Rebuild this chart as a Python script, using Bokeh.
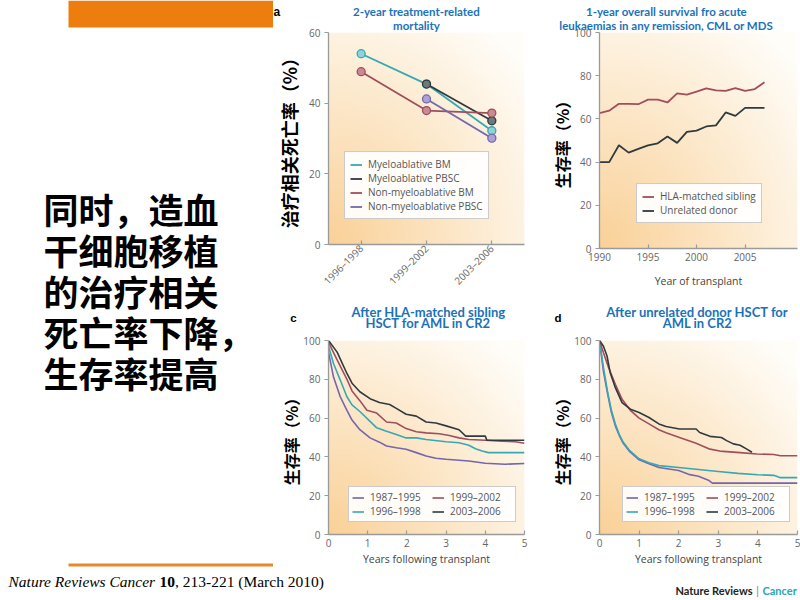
import numpy as np
from bokeh.plotting import figure
from bokeh.models import Range1d, Legend, LegendItem, FixedTicker, LinearAxis
from bokeh.layouts import row, column
from bokeh.embed import file_html
from bokeh.resources import INLINE
from bokeh.core.properties import value

# ---------------- data ----------------
periods_a = ["1996–1998", "1999–2002", "2003–2006"]
mort_myelo_bm = [54.0, 45.4, 32.2]
mort_myelo_pbsc = [np.nan, 45.4, 35.0]
mort_nonmyelo_bm = [48.9, 37.9, 37.2]
mort_nonmyelo_pbsc = [np.nan, 41.2, 30.1]

years_b = [1990, 1991, 1992, 1993, 1994, 1995, 1996, 1997, 1998, 1999,
           2000, 2001, 2002, 2003, 2004, 2005, 2006, 2007]
surv_sibling = [62.7, 63.8, 67.0, 67.0, 66.8, 68.9, 68.9, 67.6, 71.8, 71.2,
                72.6, 74.1, 73.2, 73.0, 74.3, 73.0, 73.8, 77.0]
surv_unrelated = [40.0, 40.0, 47.8, 44.4, 46.1, 47.7, 48.7, 51.8, 48.9, 54.0,
                  54.6, 56.5, 57.0, 63.0, 61.4, 65.1, 65.1, 65.1]

# panel c: after HLA-matched sibling HSCT
c_t_8795 = [0, 0.13, 0.3, 0.47, 0.6, 0.8, 1.06, 1.3, 1.48, 1.73, 1.98, 2.24, 2.49, 2.74, 3.0, 3.33, 3.58, 4.0, 4.5, 5.0]
c_v_8795 = [94, 81, 71, 64, 59, 54, 49.8, 47.6, 45.6, 44.7, 43.9, 42.2, 40.5, 39.3, 38.8, 38.3, 37.9, 36.7, 36.2, 36.6]
c_t_9698 = [0, 0.13, 0.3, 0.47, 0.6, 0.8, 1.06, 1.23, 1.48, 1.73, 1.98, 2.24, 2.49, 3.0, 3.33, 3.58, 3.75, 3.92, 4.08, 5.0]
c_v_9698 = [97, 88, 79.6, 71, 66.8, 63.4, 58.3, 55, 53.2, 51.5, 49.8, 49.8, 49, 47.8, 47.3, 46, 44.2, 43, 42.2, 42.2]
c_t_9902 = [0, 0.22, 0.47, 0.6, 0.8, 0.98, 1.23, 1.48, 1.73, 1.98, 2.24, 2.49, 2.83, 3.08, 3.33, 3.58, 4.0, 4.42, 4.76, 5.0]
c_v_9902 = [99, 90, 80, 74, 69, 64, 62.6, 58, 57.5, 54.6, 53, 52.4, 51.9, 51, 49.8, 49, 48.6, 48.1, 47.8, 47]
c_t_0306 = [0, 0.22, 0.47, 0.6, 0.8, 1.06, 1.3, 1.56, 1.73, 1.98, 2.24, 2.49, 2.74, 3.0, 3.33, 3.5, 4.0, 4.04, 5.0]
c_v_0306 = [100, 94, 83, 78, 73.6, 70, 68, 67, 65, 62, 61, 58, 57.5, 56, 54, 50.7, 50.7, 48.6, 48.6]

# panel d: after unrelated donor HSCT
d_t_8795 = [0, 0.1, 0.2, 0.3, 0.4, 0.5, 0.6, 0.75, 1.0, 1.25, 1.5, 2.0, 2.25, 2.5, 2.75, 2.85, 5.0]
d_v_8795 = [100, 84, 73, 63, 56, 51, 47, 43, 38.5, 36.5, 34.5, 33, 31, 30, 28, 26.5, 26.5]
d_t_9698 = [0, 0.1, 0.2, 0.3, 0.4, 0.5, 0.6, 0.75, 1.0, 1.25, 1.5, 2.0, 2.5, 3.0, 3.5, 4.0, 4.4, 4.57, 5.0]
d_v_9698 = [100, 86, 74, 64, 57, 51.5, 47.5, 43.5, 39, 37, 35.5, 34.5, 33.5, 32.5, 31.5, 30.8, 30.5, 29.3, 29.3]
d_t_9902 = [0, 0.1, 0.23, 0.4, 0.57, 0.78, 1.0, 1.25, 1.5, 1.68, 2.02, 2.44, 2.79, 3.04, 3.55, 3.98, 4.4, 4.57, 5.0]
d_v_9902 = [100, 93.7, 86, 77.4, 69.7, 64, 60, 57, 54, 52.5, 50, 47, 44, 43, 42.2, 41.5, 41.2, 40.6, 40.6]
d_t_0306 = [0, 0.1, 0.19, 0.27, 0.4, 0.57, 0.78, 1.0, 1.25, 1.5, 1.68, 2.02, 2.44, 2.53, 2.79, 3.08, 3.21, 3.38, 3.55, 3.72, 3.85]
d_v_0306 = [100, 97, 92, 83.4, 75.7, 68, 64.6, 62.9, 60.3, 57, 55.7, 54.4, 54.4, 52.6, 50.6, 50, 48.4, 46.7, 46, 44, 42.4]

era_labels = ["1987–1995", "1996–1998", "1999–2002", "2003–2006"]
a_labels = ["Myeloablative BM", "Myeloablative PBSC", "Non-myeloablative BM", "Non-myeloablative PBSC"]
b_labels = ["HLA-matched sibling", "Unrelated donor"]

slide_text = ["同时，造血", "干细胞移植", "的治疗相关", "死亡率下降，", "生存率提高"]

# ---------------- styling ----------------
TEAL = "#35a9b3"; DARK = "#2f3a3f"; RED = "#a14e5c"; PURP = "#7466ab"
TEAL_F = "#8fd3d9"; DARK_F = "#6c7a80"; RED_F = "#c98a94"; PURP_F = "#ada2d4"
AXIS = "#9a9a9a"; TICKTXT = "#666666"; BLUE = "#1b72b9"
SANS = "Open Sans"
CJK = "Noto Sans CJK SC"
ORANGE = "#ee7d10"
NBSP = "\u00a0"


def panel(fig_box, frame_box, xr, yr):
    fl, ft, fr, fb = fig_box
    gl, gt, gr, gb = frame_box
    p = figure(width=fr - fl, height=fb - ft, x_range=Range1d(*xr), y_range=Range1d(*yr),
               output_backend="svg", toolbar_location=None,
               min_border_left=gl - fl, min_border_right=fr - gr,
               min_border_top=gt - ft, min_border_bottom=fb - gb)
    p.outline_line_color = None
    p.grid.visible = False
    p.background_fill_color = "white"
    p.border_fill_color = "white"
    # soft peach gradient background (style only)
    n = 64
    u = np.linspace(0, 1, n)
    uu, vv = np.meshgrid(u, u)
    f = np.clip(1 - np.sqrt(uu ** 2 + vv ** 2) / 1.3, 0, 1)
    img = np.empty((n, n), dtype=np.uint32)
    view = img.view(dtype=np.uint8).reshape((n, n, 4))
    view[..., 0] = (255 - 5 * f).astype(np.uint8)
    view[..., 1] = (253 - 44 * f).astype(np.uint8)
    view[..., 2] = (248 - 96 * f).astype(np.uint8)
    view[..., 3] = 255
    p.image_rgba(image=[img], x=xr[0], y=yr[0], dw=xr[1] - xr[0], dh=yr[1] - yr[0])
    return p


def text_fig(x0, y0, x1, y1):
    p = figure(width=x1 - x0, height=y1 - y0, x_range=Range1d(x0, x1), y_range=Range1d(y1, y0),
               x_axis_type=None, y_axis_type=None, output_backend="svg", toolbar_location=None,
               min_border=0)
    p.outline_line_color = None
    p.grid.visible = False
    p.background_fill_color = "white"
    p.border_fill_color = "white"
    return p


def style_axes(p, xticks, yticks, ylabel, ysize, ystandoff):
    for ax in (p.xaxis[0], p.yaxis[0]):
        ax.axis_line_color = AXIS
        ax.axis_line_width = 1.3
        ax.major_tick_line_color = AXIS
        ax.major_tick_line_width = 1.2
        ax.minor_tick_line_color = None
        ax.major_label_text_color = TICKTXT
        ax.major_label_text_font = SANS
        ax.major_label_text_font_size = "10px"
    p.xaxis.major_tick_in = 4
    p.xaxis.major_tick_out = 0
    p.yaxis.major_tick_in = 0
    p.yaxis.major_tick_out = 4
    p.xaxis.major_label_standoff = 4
    p.yaxis.major_label_standoff = 4
    p.xaxis.ticker = FixedTicker(ticks=xticks)
    p.yaxis.ticker = FixedTicker(ticks=yticks)
    p.yaxis.axis_label = ylabel
    p.yaxis.axis_label_text_font = CJK
    p.yaxis.axis_label_text_font_style = "bold"
    p.yaxis.axis_label_text_font_size = ysize
    p.yaxis.axis_label_text_color = "black"
    p.yaxis.axis_label_standoff = ystandoff


def stack_top_texts(p, frame_box, xr, items):
    """Texts above the frame, drawn as tick labels of label-only axes stacked outward.
    A text left of the frame (panel letter) is anchored at the frame's left edge and
    padded with no-break spaces so that the glyph lands at the wanted spot.
    Each item: (x_px, text, center_y_px, font, size_px, color, measured_height_px)."""
    fx0, fy0, fx1, fy1 = frame_box
    bottom = fy0
    for (px, txt, cy, font, size, color, h) in items:
        if px < fx0:
            xd = xr[0]
            glyph_w = 0.58 * size
            nb_w = 0.278 * size
            total_w = 2 * (fx0 - (px - glyph_w / 2))
            n = max(0, int(round((total_w - glyph_w) / nb_w)))
            label = txt + NBSP * n
        else:
            xd = xr[0] + (px - fx0) / (fx1 - fx0) * (xr[1] - xr[0])
            label = txt
        s = int(np.floor(bottom - cy - h / 2 + 0.5))
        ax = LinearAxis(ticker=FixedTicker(ticks=[xd]), major_label_overrides={xd: label})
        ax.axis_line_color = None
        ax.major_tick_line_color = None
        ax.minor_tick_line_color = None
        ax.major_tick_in = 0
        ax.major_tick_out = 0
        ax.major_label_standoff = s
        ax.major_label_text_font = font
        ax.major_label_text_font_size = f"{size}px"
        ax.major_label_text_font_style = "bold"
        ax.major_label_text_color = color
        p.add_layout(ax, "above")
        bottom -= (s + h)


def add_legend(p, items, loc, ncols=1, padding=5):
    leg = Legend(items=[LegendItem(label=l, renderers=[r]) for l, r in items], location=loc)
    leg.label_text_font = SANS
    leg.label_text_font_size = "10px"
    leg.label_text_color = "#555555"
    leg.glyph_width = 12
    leg.glyph_height = 11
    leg.label_height = 11
    leg.label_standoff = 6
    leg.spacing = 0
    leg.padding = padding
    leg.margin = 0
    leg.border_line_color = "#9a9a9a"
    leg.background_fill_color = "white"
    leg.background_fill_alpha = 0.92
    if ncols > 1:
        leg.ncols = ncols
        leg.label_width = 62
    p.add_layout(leg)


# ---------------- panel a ----------------
A_FRAME = (328, 32, 524, 248)
A_XR = (-0.5, 2.5)
pa = panel((273, 0, 540, 295), A_FRAME, A_XR, (0, 60))
idx_a = list(range(len(periods_a)))
style_axes(pa, idx_a, [0, 20, 40, 60], "治疗相关死亡率（%）", "18px", 4)
pa.xaxis.major_label_overrides = {i: s for i, s in zip(idx_a, periods_a)}
pa.xaxis.major_label_orientation = np.pi / 4
pa.xaxis.major_label_text_font_size = "10px"
pa.xaxis.major_label_standoff = 2
ra = []
for vals, lc, fc in [(mort_myelo_bm, TEAL, TEAL_F), (mort_myelo_pbsc, DARK, DARK_F),
                     (mort_nonmyelo_bm, RED, RED_F), (mort_nonmyelo_pbsc, PURP, PURP_F)]:
    r = pa.line(idx_a, vals, line_color=lc, line_width=1.8)
    pa.scatter(idx_a, vals, size=8, fill_color=fc, line_color=lc, line_width=1.3)
    ra.append(r)
add_legend(pa, list(zip(a_labels, ra)), (16, 25))
stack_top_texts(pa, A_FRAME, A_XR, [
    (416, "mortality", 24, "Lato", 11.5, BLUE, 14),
    (416, "2-year treatment-related", 12, "Lato", 11.5, BLUE, 14),
    (277, "a", 11.5, "Liberation Sans", 12, "black", 22),
])

# ---------------- panel b ----------------
B_FRAME = (599, 32, 797, 248)
B_XR = (1990, 2010.4)
pb = panel((540, 0, 800, 295), B_FRAME, B_XR, (0, 100))
style_axes(pb, [1990, 1995, 2000, 2005], [0, 20, 40, 60, 80, 100], "生存率（%）", "16px", -3)
pb.xaxis.axis_label = "Year of transplant"
pb.xaxis.axis_label_text_font = SANS
pb.xaxis.axis_label_text_font_style = "normal"
pb.xaxis.axis_label_text_font_size = "10.5px"
pb.xaxis.axis_label_text_color = "#444444"
pb.xaxis.axis_label_standoff = 10
r1 = pb.line(years_b, surv_sibling, line_color=RED, line_width=1.8)
r2 = pb.line(years_b, surv_unrelated, line_color=DARK, line_width=1.8)
add_legend(pb, list(zip(b_labels, [r1, r2])), (37, 25))
stack_top_texts(pb, B_FRAME, B_XR, [
    (666, "leukaemias in any remission, CML or MDS", 24, "Lato", 11.5, BLUE, 14),
    (666, "1-year overall survival fro acute", 12, "Lato", 11.5, BLUE, 14),
])


# ---------------- panels c, d ----------------
def km_panel(fig_box, frame_box, series, leg_loc, top_items):
    xr = (0, 5)
    p = panel(fig_box, frame_box, xr, (0, 100))
    style_axes(p, [0, 1, 2, 3, 4, 5], [0, 20, 40, 60, 80, 100], "生存率（%）", "16px", -3)
    p.xaxis.axis_label = "Years following transplant"
    p.xaxis.axis_label_text_font = SANS
    p.xaxis.axis_label_text_font_style = "normal"
    p.xaxis.axis_label_text_font_size = "10.5px"
    p.xaxis.axis_label_text_color = "#444444"
    p.xaxis.axis_label_standoff = 2
    rs = []
    for (t, v), col in zip(series, [PURP, TEAL, RED, DARK]):
        rs.append(p.line(t, v, line_color=col, line_width=1.6))
    add_legend(p, list(zip(era_labels, rs)), leg_loc, ncols=2, padding=3)
    stack_top_texts(p, frame_box, xr, top_items)
    return p


pc = km_panel((273, 295, 540, 570), (328, 340, 524, 534),
              [(c_t_8795, c_v_8795), (c_t_9698, c_v_9698), (c_t_9902, c_v_9902), (c_t_0306, c_v_0306)],
              (20, 12),
              [(428, "HSCT for AML in CR2", 322, "Lato", 13, BLUE, 16),
               (293, "c", 316, "Liberation Sans", 11.5, "black", 21),
               (428, "After HLA-matched sibling", 308, "Lato", 13, BLUE, 16)])
pd_ = km_panel((540, 295, 800, 570), (599, 340, 797, 534),
               [(d_t_8795, d_v_8795), (d_t_9698, d_v_9698), (d_t_9902, d_v_9902), (d_t_0306, d_v_0306)],
               (23, 12),
               [(697, "AML in CR2", 322, "Lato", 13, BLUE, 16),
                (558, "d", 316, "Liberation Sans", 11.5, "black", 21),
                (697, "After unrelated donor HSCT for", 308, "Lato", 13, BLUE, 16)])

# ---------------- left text column ----------------
left = text_fig(0, 0, 273, 570)
left.quad(left=[68], right=[273], top=[0], bottom=[27], fill_color=ORANGE, line_color=None)
left.quad(left=[68], right=[273], top=[563], bottom=[566], fill_color="#e48a2c", line_color=None)
line_ys = [208, 249, 290, 331, 372]
left.text(x=[43] * len(slide_text), y=line_ys, text=slide_text,
          text_font=value(CJK), text_font_style="bold", text_font_size="35px",
          text_color="black", text_baseline="middle", text_align="left")

# ---------------- bottom strip ----------------
strip = text_fig(0, 570, 800, 600)
cy = 581
strip.text(x=[8], y=[cy], text=["Nature Reviews Cancer"], text_font=value("Liberation Serif"),
           text_font_style="italic", text_font_size="15.5px", text_color="black",
           text_baseline="middle", text_align="left")
strip.text(x=[159], y=[cy], text=["10"], text_font=value("Liberation Serif"),
           text_font_style="bold", text_font_size="15.5px", text_color="black",
           text_baseline="middle", text_align="left")
strip.text(x=[174.5], y=[cy], text=[", 213-221 (March 2010)"], text_font=value("Liberation Serif"),
           text_font_style="normal", text_font_size="15.5px", text_color="black",
           text_baseline="middle", text_align="left")
ny = 590
strip.text(x=[752], y=[ny], text=["Nature Reviews"], text_font=value("Lato"),
           text_font_style="bold", text_font_size="11px", text_color="#222222",
           text_baseline="middle", text_align="right")
strip.text(x=[757], y=[ny], text=["|"], text_font=value("Lato"),
           text_font_size="12px", text_color="#888888", text_baseline="middle", text_align="center")
strip.text(x=[762], y=[ny], text=["Cancer"], text_font=value("Lato"),
           text_font_style="bold", text_font_size="11px", text_color="#2aa3b9",
           text_baseline="middle", text_align="left")

layout = column(row(left, column(pa, pc), column(pb, pd_)), strip)

open("out.html", "w").write(file_html(layout, INLINE))
